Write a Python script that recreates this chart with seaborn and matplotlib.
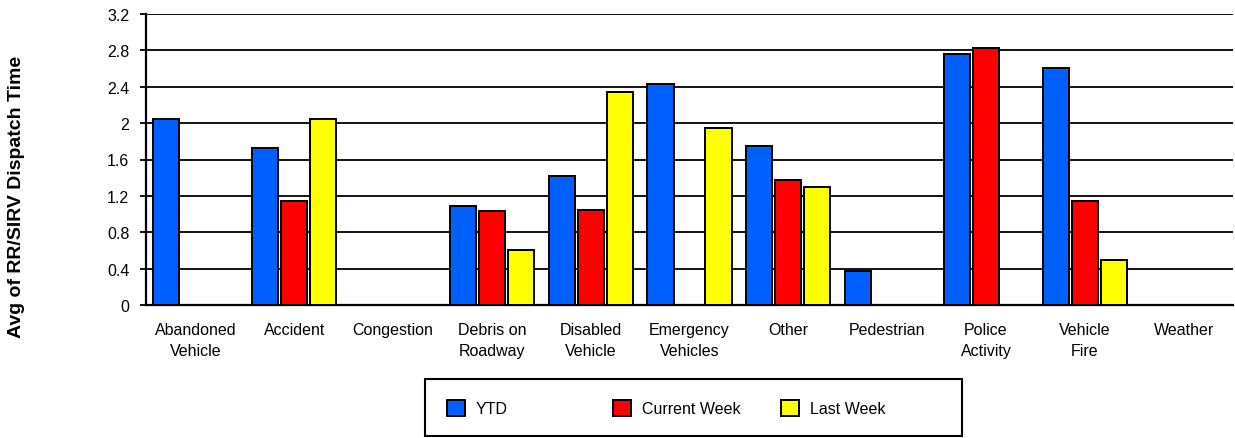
import matplotlib
matplotlib.use("Agg")
import matplotlib.pyplot as plt
import matplotlib.patches as mpatches
import numpy as np
import pandas as pd
import seaborn as sns

CATEGORIES = ["Abandoned\nVehicle", "Accident", "Congestion", "Debris on\nRoadway",
              "Disabled\nVehicle", "Emergency\nVehicles", "Other", "Pedestrian",
              "Police\nActivity", "Vehicle\nFire", "Weather"]
SERIES = ["YTD", "Current Week", "Last Week"]
YTD = [2.05, 1.73, np.nan, 1.09, 1.42, 2.43, 1.75, 0.37, 2.76, 2.61, np.nan]
CURRENT_WEEK = [np.nan, 1.14, np.nan, 1.03, 1.05, np.nan, 1.37, np.nan, 2.83, 1.14, np.nan]
LAST_WEEK = [np.nan, 2.05, np.nan, 0.61, 2.34, 1.95, 1.30, np.nan, np.nan, 0.50, np.nan]
Y_TICKS = [0, 0.4, 0.8, 1.2, 1.6, 2, 2.4, 2.8, 3.2]

COLORS = {"YTD": "#0060FF", "Current Week": "#FF0000", "Last Week": "#FFFF00"}
W, H = 1235, 439

sns.set_theme(style="white")
plt.rcParams["font.family"] = ["Liberation Sans", "DejaVu Sans"]
plt.rcParams["text.color"] = "black"
plt.rcParams["xtick.color"] = "black"
plt.rcParams["ytick.color"] = "black"

df = pd.DataFrame({
    "Category": CATEGORIES * 3,
    "Series": [s for s in SERIES for _ in CATEGORIES],
    "Value": YTD + CURRENT_WEEK + LAST_WEEK,
})

fig = plt.figure(figsize=(W / 100, H / 100), dpi=100)
ax = fig.add_axes([146 / W, 1 - 306 / H, (1233 - 146) / W, (306 - 15) / H])

sns.barplot(data=df, x="Category", y="Value", hue="Series", hue_order=SERIES,
            order=CATEGORIES, palette=COLORS, width=0.88, gap=0.1,
            edgecolor="black", linewidth=1.4, saturation=1, ax=ax, zorder=3)

ax.set_ylim(0, 3.2)
ax.set_yticks(Y_TICKS)
ax.set_yticklabels([f"{t:g}" for t in Y_TICKS], fontsize=11.5)
ax.yaxis.grid(True, color="black", linewidth=1.3)
ax.set_axisbelow(True)
ax.tick_params(axis="y", length=4, width=1.3, colors="black", direction="out", left=True, pad=8)
ax.tick_params(axis="x", length=0, labelsize=11.5, labelcolor="black", pad=12)
for lbl in ax.get_xticklabels():
    lbl.set_linespacing(1.5)
for side in ["top", "right"]:
    ax.spines[side].set_visible(False)
for side in ["left", "bottom"]:
    ax.spines[side].set_color("black")
    ax.spines[side].set_linewidth(1.6)
ax.set_xlabel("")
ax.set_ylabel("")
ax.legend_.remove()

fig.text(17 / W, 1 - 197 / H, "Avg of RR/SIRV Dispatch Time", rotation=90,
         ha="center", va="center", fontsize=14, fontweight="bold", color="black")

# legend: one entry per position inside a plain black frame
handles, labels = ax.get_legend_handles_labels()
for h, l, x in zip(handles, labels, [447, 613, 781]):
    fig.legend([h], [l], loc="center left", bbox_to_anchor=(x / W, 1 - 409 / H),
               fontsize=11.5, frameon=False, handlelength=1.1, handleheight=1.15,
               handletextpad=0.7, borderpad=0, borderaxespad=0, labelcolor="black")
fig.patches.append(mpatches.Rectangle((425 / W, 1 - 437 / H), (962 - 425) / W, 57 / H,
                                      transform=fig.transFigure, fill=False,
                                      edgecolor="black", linewidth=1.5))

fig.savefig("out.png", dpi=100, facecolor="white")
